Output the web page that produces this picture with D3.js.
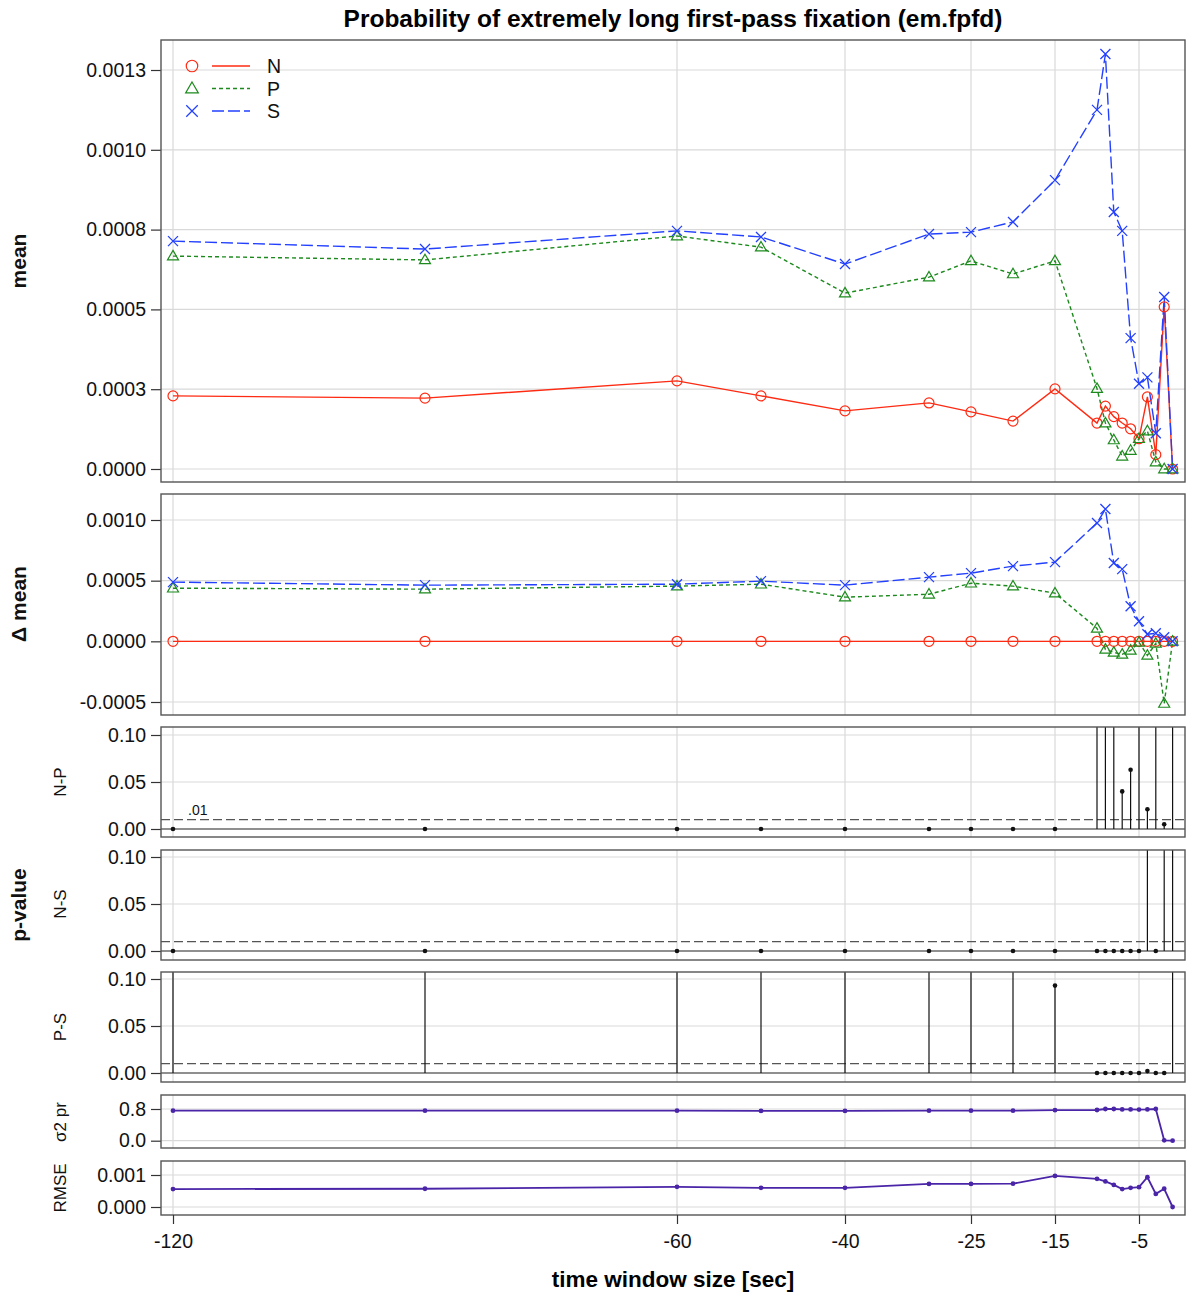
<!DOCTYPE html>
<html><head><meta charset="utf-8">
<script src="https://cdn.jsdelivr.net/npm/d3@7"></script>
<style>
html,body{margin:0;padding:0;background:#fff;}
svg{display:block;font-family:"Liberation Sans",Arial,Helvetica,sans-serif;}
</style></head>
<body><svg id="c" width="1186" height="1293"></svg>
<script>
// ---------- data ----------
const windows = [-120,-90,-60,-50,-40,-30,-25,-20,-15,-10,-9,-8,-7,-6,-5,-4,-3,-2,-1];
const seriesNames = ["N","P","S"];
const meanN = [0.000229,0.000222,0.000276,0.000229,0.000182,0.000207,0.000179,0.000150,0.000251,0.000144,0.000197,0.000164,0.000144,0.000126,0.000095,0.000226,0.000045,0.000508,0.000000];
const meanP = [0.000667,0.000655,0.000730,0.000695,0.000551,0.000601,0.000652,0.000611,0.000652,0.000252,0.000144,0.000091,0.000040,0.000058,0.000095,0.000119,0.000022,0.000000,0.000000];
const meanS = [0.000714,0.000689,0.000746,0.000727,0.000642,0.000736,0.000742,0.000774,0.000905,0.001125,0.001300,0.000805,0.000746,0.000410,0.000267,0.000287,0.000112,0.000539,0.000000];
const dmeanN = [0,0,0,0,0,0,0,0,0,0,0,0,0,0,0,0,0,0,0];
const dmeanP = [0.000438,0.000430,0.000455,0.000471,0.000364,0.000388,0.000479,0.000455,0.000397,0.000107,-0.000066,-0.000091,-0.000107,-0.000074,-0.000008,-0.000116,-0.000017,-0.000512,0.000000];
const dmeanS = [0.000488,0.000463,0.000471,0.000496,0.000463,0.000529,0.000562,0.000620,0.000653,0.000975,0.001090,0.000645,0.000595,0.000289,0.000165,0.000058,0.000066,0.000033,0.000000];
const pNP = [0,0,0,0,0,0,0,0,0,0.42,0.31,0.55,0.040,0.063,0.27,0.021,0.66,0.005,1];
const pNS = [0,0,0,0,0,0,0,0,0,0,0,0,0,0,0,0.38,0,0.74,1];
const pPS = [0.61,0.48,0.35,0.72,0.29,0.44,0.53,0.39,0.093,0,0,0,0,0,0,0.002,0,0,1];
const sigma2 = [0.757,0.757,0.757,0.752,0.752,0.757,0.757,0.757,0.770,0.775,0.800,0.800,0.790,0.790,0.785,0.790,0.800,0.010,0.000];
const rmse = [0.00056,0.00057,0.00063,0.00060,0.00060,0.00072,0.00072,0.00073,0.00097,0.00088,0.00080,0.00069,0.00056,0.00060,0.00062,0.00093,0.00041,0.00057,0.00000];
const xTicks = [-120,-60,-40,-25,-15,-5];
const meanTicks = [0,0.00025,0.0005,0.00075,0.001,0.00125];
const meanTickLabels = ["0.0000","0.0003","0.0005","0.0008","0.0010","0.0013"];
const dmeanTicks = [-0.0005,0,0.0005,0.001];
const pTicks = [0,0.05,0.1];
const pThreshold = 0.01;
const sigmaTicks = [0,0.8];
const rmseTicks = [0,0.001];
const title = "Probability of extremely long first-pass fixation (em.fpfd)";
const xTitle = "time window size [sec]";

// ---------- layout ----------
const svg = d3.select("#c");
const FL = 161, FR = 1185;
const x = d3.scaleLinear().domain([-120,-5]).range([173,1139]);
const col = {N:"#ff2a12", P:"#1d8a1d", S:"#2340ff"};
const dash = {N:null, P:"4,3", S:"12,4"};
const purple = "#4a25a8";
const grid = "#d9d9d9", frame = "#555";
const fmt = f => v => d3.format(f)(v).replace("\u2212","-");

let clipId = 0;
function panel(top, bottom, domain, range, ticks, tickFmt) {
  const y = d3.scaleLinear().domain(domain).range(range);
  const g = svg.append("g");
  g.selectAll(".vg").data(xTicks).join("line")
    .attr("x1", d=>x(d)).attr("x2", d=>x(d)).attr("y1", top).attr("y2", bottom)
    .attr("stroke", grid).attr("stroke-width", 1.2);
  g.selectAll(".hg").data(ticks).join("line")
    .attr("x1", FL).attr("x2", FR).attr("y1", d=>y(d)).attr("y2", d=>y(d))
    .attr("stroke", grid).attr("stroke-width", 1.2);
  const ax = g.append("g").attr("transform", `translate(${FL},0)`)
    .call(d3.axisLeft(y).tickValues(ticks).tickFormat(tickFmt).tickSize(10).tickPadding(5));
  ax.select(".domain").remove();
  ax.selectAll(".tick line").attr("stroke", "#333").attr("stroke-width", 1.2);
  ax.selectAll(".tick text").attr("font-size", 19.5).attr("fill", "#111")
    .attr("font-family", '"Liberation Sans",Arial,sans-serif');
  const id = "clip" + (clipId++);
  svg.append("clipPath").attr("id", id).append("rect")
    .attr("x", FL).attr("y", top).attr("width", FR-FL).attr("height", bottom-top);
  const inner = svg.append("g").attr("clip-path", `url(#${id})`);
  svg.append("rect").attr("x", FL).attr("y", top).attr("width", FR-FL).attr("height", bottom-top)
    .attr("fill", "none").attr("stroke", frame).attr("stroke-width", 1.4);
  return {y, inner, top, bottom};
}

function marker(g, name, cx, cy, s) {
  const c = col[name];
  if (name === "N") {
    g.append("circle").attr("cx", cx).attr("cy", cy).attr("r", s*0.5)
      .attr("fill", "none").attr("stroke", c).attr("stroke-width", 1.2);
  } else if (name === "P") {
    const h = s*0.95, w = s*0.55;
    g.append("path").attr("d", `M${cx},${cy-h*0.6}L${cx+w},${cy+h*0.4}L${cx-w},${cy+h*0.4}Z`)
      .attr("fill", "none").attr("stroke", c).attr("stroke-width", 1.2);
  } else {
    const r = s*0.5;
    g.append("path").attr("d", `M${cx-r},${cy-r}L${cx+r},${cy+r}M${cx-r},${cy+r}L${cx+r},${cy-r}`)
      .attr("fill", "none").attr("stroke", c).attr("stroke-width", 1.3);
  }
}

function seriesPlot(p, data) {
  const line = d3.line().x((d,i)=>x(windows[i])).y(d=>p.y(d));
  seriesNames.forEach(n => {
    p.inner.append("path").datum(data[n]).attr("d", line)
      .attr("fill", "none").attr("stroke", col[n]).attr("stroke-width", 1.4)
      .attr("stroke-dasharray", dash[n]);
  });
  seriesNames.forEach(n => {
    data[n].forEach((v,i) => marker(p.inner, n, x(windows[i]), p.y(v), 10));
  });
}

// Title
svg.append("text").attr("x", 673).attr("y", 27).attr("text-anchor", "middle")
  .attr("font-size", 24.5).attr("font-weight", "bold").text(title);

// Panel 1: mean
const p1 = panel(40, 482, [0, 0.00125], [469, 70], meanTicks, (d,i)=>meanTickLabels[i]);
seriesPlot(p1, {N:meanN, P:meanP, S:meanS});
seriesNames.forEach((n,i) => {
  const ly = 66 + i*22.5;
  marker(svg, n, 192, ly, 11.5);
  svg.append("line").attr("x1", 212).attr("x2", 250).attr("y1", ly).attr("y2", ly)
    .attr("stroke", col[n]).attr("stroke-width", 1.5).attr("stroke-dasharray", dash[n]);
  svg.append("text").attr("x", 267).attr("y", ly+7).attr("font-size", 19.5).attr("fill", "#111").text(n);
});

// Panel 2: delta mean
const p2 = panel(494, 715, [-0.0005, 0.001], [702, 520], dmeanTicks, fmt(".4f"));
seriesPlot(p2, {N:dmeanN, P:dmeanP, S:dmeanS});

// p-value panels
function pPanel(top, bottom, y0, y1, vals) {
  const p = panel(top, bottom, [0, 0.1], [y0, y1], pTicks, fmt(".2f"));
  p.inner.append("line").attr("x1", FL).attr("x2", FR).attr("y1", p.y(0)).attr("y2", p.y(0))
    .attr("stroke", "#333").attr("stroke-width", 1.2);
  p.inner.append("line").attr("x1", FL).attr("x2", FR).attr("y1", p.y(pThreshold)).attr("y2", p.y(pThreshold))
    .attr("stroke", "#555").attr("stroke-width", 1.1).attr("stroke-dasharray", "9,4");
  vals.forEach((v,i) => {
    p.inner.append("line").attr("x1", x(windows[i])).attr("x2", x(windows[i]))
      .attr("y1", p.y(0)).attr("y2", p.y(v)).attr("stroke", "#111").attr("stroke-width", 1.2);
    p.inner.append("circle").attr("cx", x(windows[i])).attr("cy", p.y(v)).attr("r", 2.3).attr("fill", "#111");
  });
  return p;
}
pPanel(727, 837, 829, 735, pNP);
svg.append("text").attr("x", 188).attr("y", 815).attr("font-size", 14).attr("fill", "#111").text(".01");
pPanel(850, 960, 951, 857, pNS);
pPanel(972, 1082, 1073, 979, pPS);

// sigma2 and RMSE panels
function linePanel(top, bottom, domain, range, ticks, tf, vals) {
  const p = panel(top, bottom, domain, range, ticks, tf);
  const line = d3.line().x((d,i)=>x(windows[i])).y(d=>p.y(d));
  p.inner.append("path").datum(vals).attr("d", line).attr("fill", "none")
    .attr("stroke", purple).attr("stroke-width", 1.8);
  p.inner.selectAll(".pt").data(vals).join("circle")
    .attr("cx", (d,i)=>x(windows[i])).attr("cy", d=>p.y(d)).attr("r", 2.4).attr("fill", purple);
  return p;
}
linePanel(1095, 1148, [0, 0.8], [1140.7, 1109], sigmaTicks, fmt(".1f"), sigma2);
linePanel(1161, 1215, [0, 0.001], [1207, 1175], rmseTicks, fmt(".3f"), rmse);

// x axis
const xa = svg.append("g").attr("transform", "translate(0,1215)")
  .call(d3.axisBottom(x).tickValues(xTicks).tickFormat(d=>String(d)).tickSize(9).tickPadding(10));
xa.select(".domain").remove();
xa.selectAll(".tick line").attr("stroke", "#333").attr("stroke-width", 1.2);
xa.selectAll(".tick text").attr("font-size", 19.5).attr("fill", "#111")
  .attr("font-family", '"Liberation Sans",Arial,sans-serif');
svg.append("text").attr("x", 673).attr("y", 1287).attr("text-anchor", "middle")
  .attr("font-size", 22.5).attr("font-weight", "bold").text(xTitle);

// y titles
function yTitle(txt, cx, cy, size, bold) {
  svg.append("text").attr("transform", `translate(${cx},${cy}) rotate(-90)`)
    .attr("text-anchor", "middle").attr("dominant-baseline", "central")
    .attr("font-size", size).attr("font-weight", bold ? "bold" : "normal").attr("fill", "#111").text(txt);
}
yTitle("mean", 18, 261, 21, true);
yTitle("\u0394 mean", 18, 604, 21, true);
yTitle("p-value", 18, 905, 21, true);
yTitle("N-P", 60, 782, 17, false);
yTitle("N-S", 60, 904, 17, false);
yTitle("P-S", 60, 1027, 17, false);
yTitle("\u03c32 pr", 60, 1122, 17, false);
yTitle("RMSE", 60, 1188, 17, false);
</script></body></html>
